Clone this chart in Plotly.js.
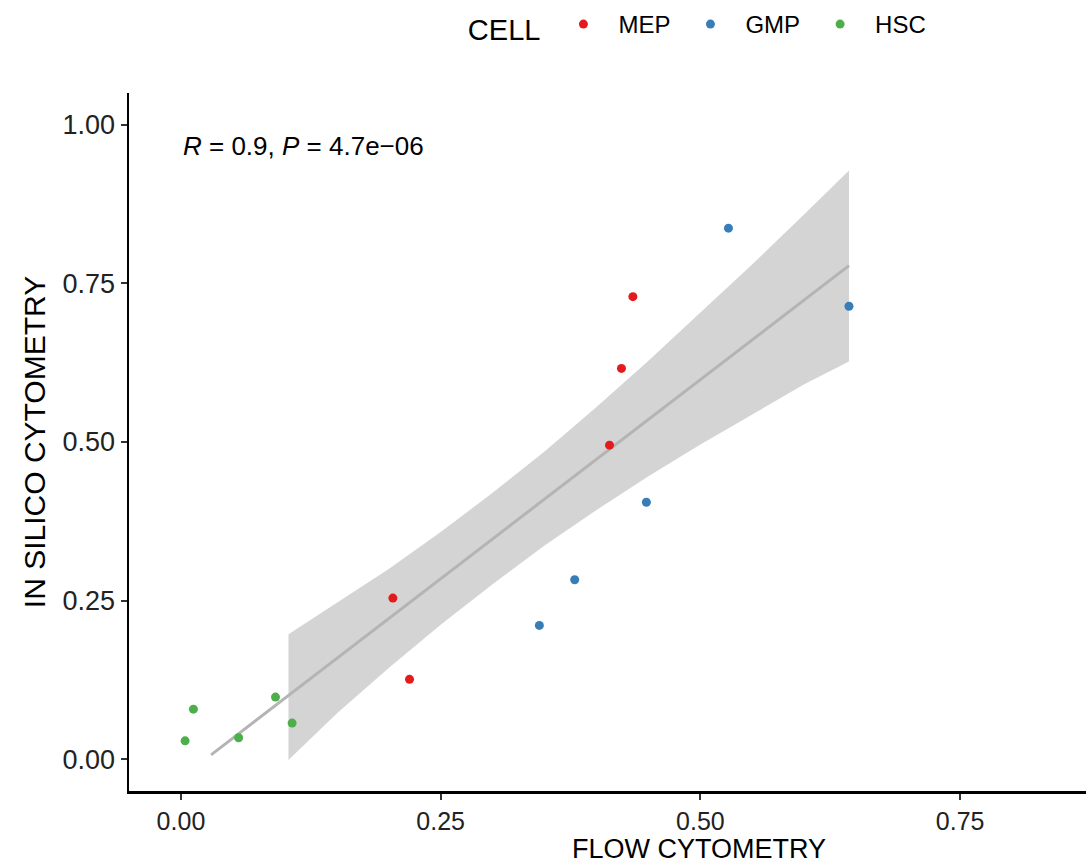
<!DOCTYPE html>
<html>
<head>
<meta charset="utf-8">
<script src="https://cdn.plot.ly/plotly-3.0.1.min.js"></script>
<style>
  html, body { margin: 0; padding: 0; background: #fff; overflow: hidden; }
  #chart { width: 1086px; height: 865px; }
</style>
</head>
<body>
<div id="chart"></div>
<script>
// ---- data ----
const mepX = [0.435, 0.424, 0.4125, 0.204, 0.220];
const mepY = [0.729, 0.616, 0.495, 0.254, 0.126];

const gmpX = [0.527, 0.643, 0.448, 0.379, 0.345];
const gmpY = [0.837, 0.714, 0.405, 0.283, 0.211];

const hscX = [0.012, 0.004, 0.0555, 0.091, 0.107];
const hscY = [0.079, 0.029, 0.034, 0.098, 0.057];

// fitted regression line (end points)
const fitX = [0.029, 0.643];
const fitY = [0.007, 0.778];

// confidence band
const bandX     = [0.1035, 0.15, 0.20, 0.25, 0.30, 0.35, 0.40, 0.45, 0.50, 0.55, 0.60, 0.643];
const bandUpper = [0.197, 0.246, 0.300, 0.358, 0.420, 0.485, 0.555, 0.628, 0.704, 0.780, 0.859, 0.928];
const bandLower = [-0.001, 0.072, 0.144, 0.212, 0.276, 0.337, 0.393, 0.446, 0.496, 0.544, 0.591, 0.627];

const xTickVals = [0, 0.25, 0.5, 0.75];
const xTickText = ['0.00', '0.25', '0.50', '0.75'];
const yTickVals = [0, 0.25, 0.5, 0.75, 1];
const yTickText = ['0.00', '0.25', '0.50', '0.75', '1.00'];

const cellNames = ['MEP', 'GMP', 'HSC'];
const cellColors = ['#E41A1C', '#377EB8', '#4DAF4A'];

const statText = '<i>R</i> = 0.9, <i>P</i> = 4.7e\u221206';
const xTitle = 'FLOW CYTOMETRY';
const yTitle = 'IN SILICO CYTOMETRY';
const legendTitle = 'CELL';

// ---- traces ----
const FONT = 'Liberation Sans, Arial, sans-serif';
const traces = [
  { x: bandX, y: bandLower, type: 'scatter', mode: 'lines',
    line: { width: 0, color: 'rgba(0,0,0,0)' }, showlegend: false, hoverinfo: 'skip' },
  { x: bandX, y: bandUpper, type: 'scatter', mode: 'lines', fill: 'tonexty',
    fillcolor: 'rgba(153,153,153,0.42)',
    line: { width: 0, color: 'rgba(0,0,0,0)' }, showlegend: false, hoverinfo: 'skip' },
  { x: fitX, y: fitY, type: 'scatter', mode: 'lines',
    line: { color: 'rgb(180,180,180)', width: 3 }, showlegend: false, hoverinfo: 'skip' }
];
const groups = [[mepX, mepY], [gmpX, gmpY], [hscX, hscY]];
groups.forEach((g, i) => {
  traces.push({
    x: g[0], y: g[1], type: 'scatter', mode: 'markers', name: cellNames[i],
    marker: { color: cellColors[i], size: 9 }
  });
});

const marginB = 74;
const plotH = 865 - 93 - marginB;
const axisBottom = 865 - marginB;
const layout = {
  width: 1086, height: 865,
  margin: { l: 129, r: 0, t: 93, b: marginB, pad: 0 },
  paper_bgcolor: '#fff', plot_bgcolor: '#fff',
  font: { family: FONT, color: '#000' },
  showlegend: true,
  legend: {
    orientation: 'h', traceorder: 'normal',
    x: 0.352, xanchor: 'left', y: 1 + (93 - 26) / plotH, yanchor: 'middle',
    font: { size: 24, family: FONT, color: '#000' },
    title: { text: legendTitle, font: { size: 29, family: FONT, color: '#000' }, side: 'left' },
    itemwidth: 60, bgcolor: 'rgba(0,0,0,0)'
  },
  xaxis: {
    range: [-0.05, (1086 - 180) / 1040],
    tickvals: xTickVals, ticktext: xTickText,
    showgrid: false, zeroline: false,
    showline: true, linecolor: '#000', linewidth: 2.5,
    ticks: 'outside', ticklen: 6, tickwidth: 2, tickcolor: '#333',
    tickfont: { size: 25, family: FONT, color: '#222' }
  },
  yaxis: {
    range: [-0.05, 1.05],
    tickvals: yTickVals, ticktext: yTickText,
    showgrid: false, zeroline: false,
    showline: true, linecolor: '#000', linewidth: 2.5,
    ticks: 'outside', ticklen: 6, tickwidth: 2, tickcolor: '#333',
    tickfont: { size: 27, family: FONT, color: '#222' },
    title: { text: yTitle, font: { size: 30, family: FONT, color: '#000' }, standoff: 8 }
  },
  annotations: [
    { text: statText, xref: 'x', yref: 'y', x: 0, y: 0.967, xanchor: 'left', yanchor: 'middle',
      showarrow: false, font: { size: 26, family: FONT, color: '#000' } },
    { text: xTitle, xref: 'paper', yref: 'paper', x: (699 - 129) / 957, xanchor: 'center',
      y: -(865 - axisBottom) / plotH, yanchor: 'bottom', borderpad: 0,
      showarrow: false, font: { size: 27, family: FONT, color: '#000' } }
  ]
};

Plotly.newPlot('chart', traces, layout, { displayModeBar: false, staticPlot: true });
</script>
</body>
</html>
